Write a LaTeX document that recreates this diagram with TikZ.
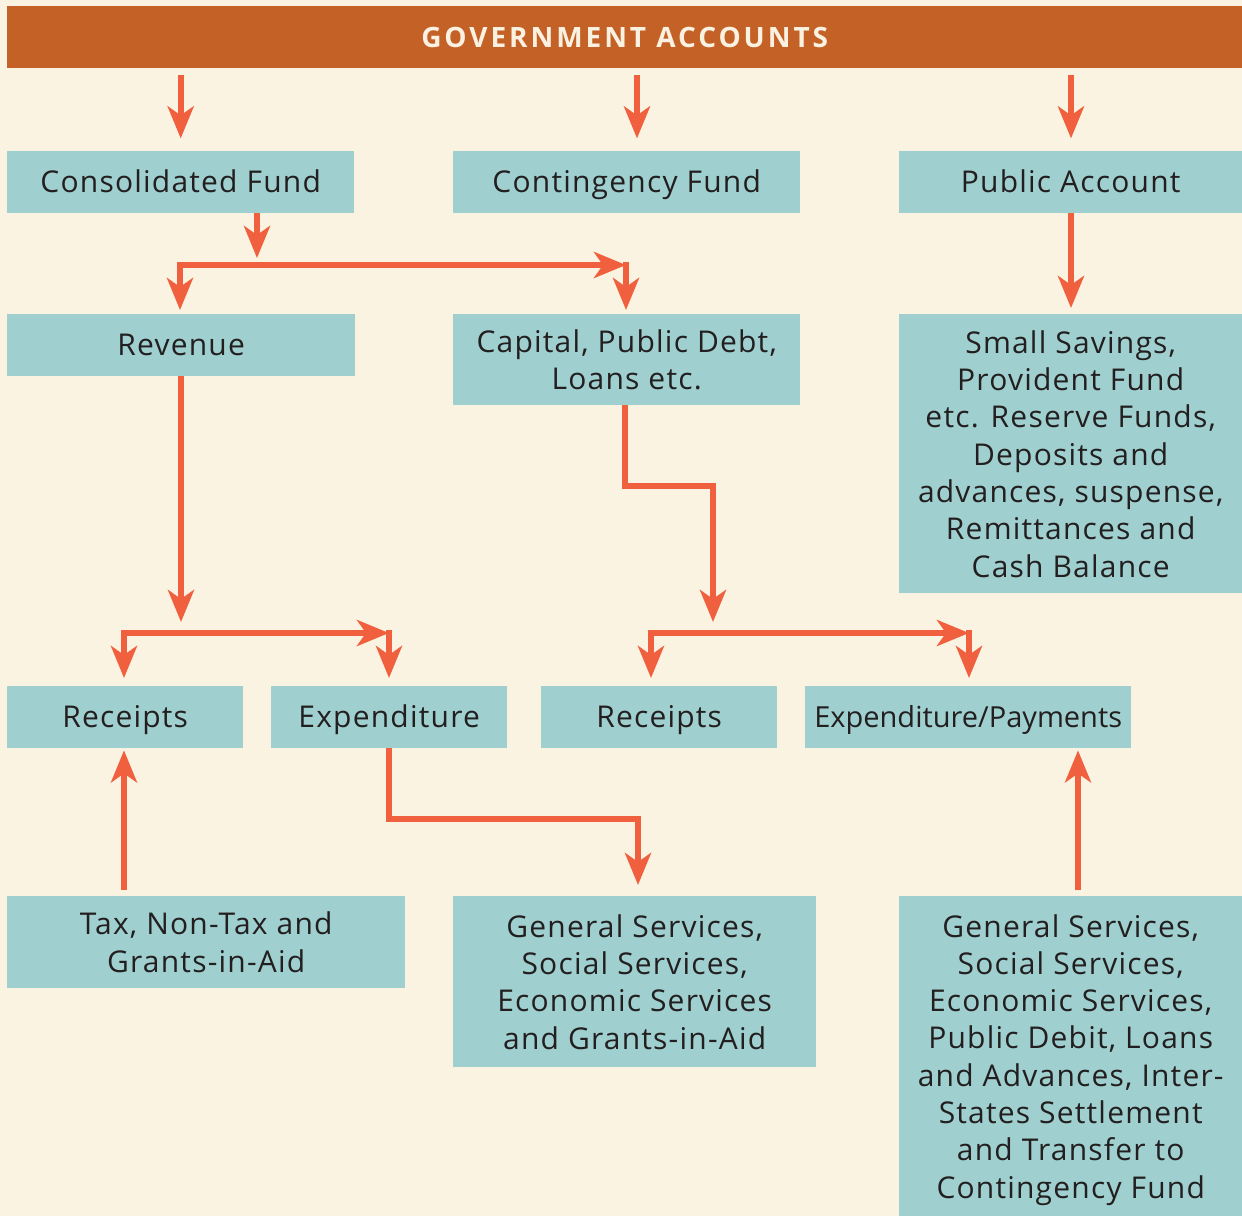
\documentclass[tikz,border=0pt]{standalone}
\usepackage{fontspec}
\setmainfont{Open Sans}[LetterSpace=4]
\newfontfamily\headfont{Open Sans}[LetterSpace=10.5]
\newfontfamily\tightfont{Open Sans}
\usetikzlibrary{arrows.meta}

\definecolor{bgcream}{HTML}{FBF3E1}
\definecolor{headbrown}{HTML}{C46127}
\definecolor{headtext}{HTML}{FBF1E1}
\definecolor{boxteal}{HTML}{9FD0CF}
\definecolor{arrowred}{HTML}{F0603E}
\definecolor{textdark}{HTML}{231F20}

\tikzset{
  fund/.style={fill=boxteal, anchor=north west, inner sep=0pt, align=center,
    text=textdark, font=\fontsize{30}{37.3}\selectfont, text depth=0pt},
  onefund/.style={fund, minimum height=62pt, text height=21.4pt},
  arr/.style={draw=arrowred, line width=6pt,
    -{Stealth[length=32pt,width=26pt,inset=9pt]}},
}

\begin{document}
\begin{tikzpicture}[x=1pt,y=-1pt]

\fill[bgcream] (0,0) rectangle (1242,1216);
\useasboundingbox (0,0) rectangle (1242,1216);

% header
\node [fill=headbrown, anchor=north west, minimum width=1235pt, minimum height=62pt, inner sep=0pt,
  text height=20pt, text depth=0pt, text=headtext,
  font=\headfont\bfseries\fontsize{28}{30}\selectfont] (gov) at (7,6) {GOVERNMENT ACCOUNTS};

% funds
\node [onefund, minimum width=347pt] (cons) at (7,151) {Consolidated Fund};
\node [onefund, minimum width=347pt] (cont) at (453,151) {Contingency Fund};
\node [onefund, minimum width=343pt] (pub) at (899,151) {Public Account};

% second row
\node [onefund, minimum width=348pt] (rev) at (7,314) {Revenue};
\node [fund, minimum width=347pt, minimum height=91pt] (cap) at (453,314) {Capital, Public Debt,\\Loans etc.};
\node [fund, minimum width=343pt, minimum height=279pt] (sav) at (899,314)
  {Small Savings,\\Provident Fund\\etc. Reserve Funds,\\Deposits and\\advances, suspense,\\Remittances and\\Cash Balance};

% third row
\node [onefund, minimum width=236pt] (recA) at (7,686) {Receipts};
\node [onefund, minimum width=236pt] (expA) at (271,686) {Expenditure};
\node [onefund, minimum width=236pt] (recB) at (541,686) {Receipts};
\node [onefund, minimum width=326pt, font=\tightfont\fontsize{29}{37.3}\selectfont] (expB) at (805,686) {Expenditure/Payments};

% bottom row
\node [fund, minimum width=398pt, minimum height=92pt] (tax) at (7,896) {Tax, Non-Tax and\\Grants-in-Aid};
\node [fund, minimum width=363pt, minimum height=171pt] (genA) at (453,896)
  {General Services,\\Social Services,\\Economic Services\\and Grants-in-Aid};
\node [fund, minimum width=343pt, minimum height=320pt] (genB) at (899,896)
  {General Services,\\Social Services,\\Economic Services,\\Public Debit, Loans\\and Advances, Inter-\\States Settlement\\and Transfer to\\Contingency Fund};

% junction points
\coordinate (splitA) at (257,265);
\coordinate (revIn) at (180,265);
\coordinate (capIn) at (626,265);
\coordinate (splitB) at (181,633);
\coordinate (recAIn) at (124,633);
\coordinate (expAIn) at (389,633);
\coordinate (splitC) at (713,633);
\coordinate (recBIn) at (651,633);
\coordinate (expBIn) at (969,633);

% from the header
\draw [arr] (gov.south -| cons) ++(0,7) -- ++(0,63);
\draw [arr] (gov.south -| 637,0) ++(0,7) -- ++(0,63);
\draw [arr] (gov.south -| 1071,0) ++(0,7) -- ++(0,63);

% consolidated fund
\draw [arr] (splitA |- cons.south) -- ([yshift=7pt]splitA);
\draw [arr] (revIn) -- (capIn);
\draw [arr] ([yshift=3pt]revIn) -- ([yshift=4pt]revIn |- rev.north);
\draw [arr] ([yshift=3pt]capIn) -- ([yshift=4pt]capIn |- cap.north);

% public account
\draw [arr] (pub.south -| 1071,0) -- ([yshift=6pt]sav.north -| 1071,0);

% revenue
\draw [arr] (rev.south -| splitB) -- ([yshift=11pt]splitB);
\draw [arr] (recAIn) -- (expAIn);
\draw [arr] ([yshift=3pt]recAIn) -- ([yshift=8pt]recAIn |- recA.north);
\draw [arr] ([yshift=3pt]expAIn) -- ([yshift=8pt]expAIn |- expA.north);

% capital
\draw [arr] (cap.south -| 625,0) |- (713,486) -- ([yshift=11pt]splitC);
\draw [arr] (recBIn) -- (expBIn);
\draw [arr] ([yshift=3pt]recBIn) -- ([yshift=8pt]recBIn |- recB.north);
\draw [arr] ([yshift=3pt]expBIn) -- ([yshift=8pt]expBIn |- expB.north);

% expenditure
\draw [arr] (expA.south -| 389,0) |- (638,819) -- ([yshift=11pt]genA.north -| 638,0);

% upward
\draw [arr] ([yshift=6pt]tax.north -| 124,0) -- ([yshift=-2pt]recA.south -| 124,0);
\draw [arr] ([yshift=6pt]genB.north -| 1078,0) -- ([yshift=-2pt]expB.south -| 1078,0);

\end{tikzpicture}
\end{document}
